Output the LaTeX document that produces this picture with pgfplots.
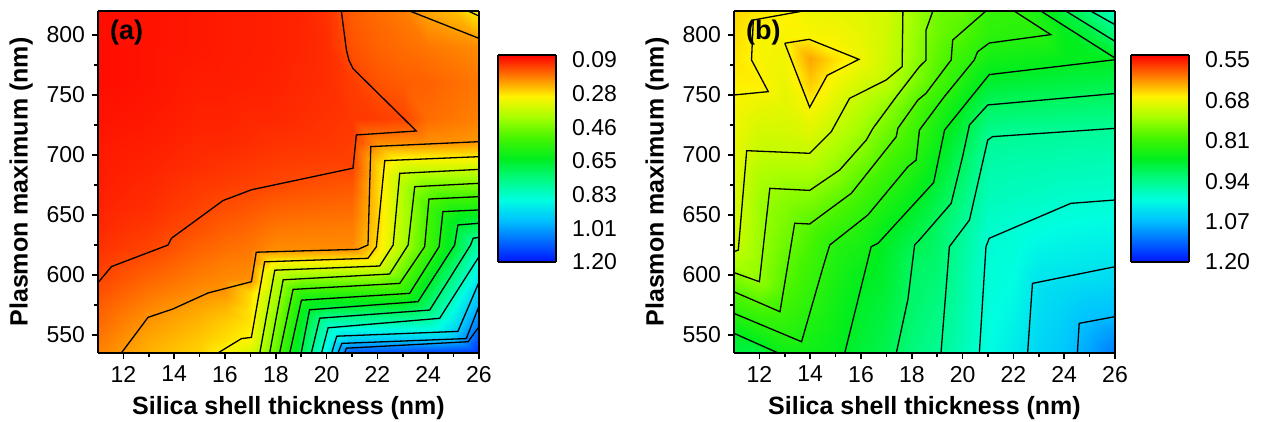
\documentclass[border=0pt]{standalone}
\usepackage{pgfplots}
\pgfplotsset{compat=1.18}
\usepackage{fontspec}
\setmainfont{Liberation Sans}

\pgfplotsset{
  colormap={origin}{rgb255=(255,0,0) rgb255=(255,120,0) rgb255=(255,243,0)
    rgb255=(167,255,0) rgb255=(69,245,0) rgb255=(0,238,30) rgb255=(0,250,130)
    rgb255=(0,254,225) rgb255=(0,193,255) rgb255=(0,106,255) rgb255=(0,20,255)},
  panel/.style={
    view={0}{90},
    scale only axis, width=190.5pt, height=171pt,
    xmin=11, xmax=26, ymin=535, ymax=820,
    xtick={12,14,...,26}, ytick={550,600,...,800},
    minor x tick num=1, minor y tick num=1,
    tick align=outside, tick pos=left,
    major tick length=3pt, minor tick length=1.8pt,
    every tick/.style={black, line width=0.8pt},
    axis line style={line width=1.4pt},
    /pgf/number format/assume math mode=true,
    ticklabel style={font=\fontsize{11.5}{13}\selectfont},
    xlabel={\bfseries Silica shell thickness (nm)},
    ylabel={\bfseries Plasmon maximum (nm)},
    label style={font=\fontsize{12.5}{14}\selectfont},
    axis on top,
  },
  cline/.style={black, line width=0.65pt},
  cbaxis/.style={
    view={0}{90}, anchor=south west,
    scale only axis, width=29pt, height=103.5pt,
    xmin=0, xmax=1, y dir=reverse,
    xtick=\empty, ytick pos=right, yticklabel pos=right,
    major tick length=0pt,
    axis line style={line width=1pt},
    yticklabel style={font=\fontsize{11.5}{13}\selectfont, xshift=4.5pt},
    axis on top,
  },
}

\begin{document}
\begin{tikzpicture}
\useasboundingbox (0,0) rectangle (632.5pt,211pt);

% ---------------- (a) ----------------
\begin{axis}[panel, at={(49pt,34.5pt)}, anchor=south west,
  point meta min=0.0625, point meta max=1.2]
\addplot3[surf, shader=interp, point meta=z] table {
x y z
11 535 .185
11 547 .175
11 560 .162
11 572 .152
11 585 .138
11 597 .127
11 610 .118
11 622 .110
11 640 .100
11 657 .095
11 675 .090
11 692 .088
11 710 .085
11 730 .080
11 760 .075
11 790 .075
11 820 .075

13 535 .230
13 547 .220
13 560 .205
13 572 .191
13 585 .174
13 597 .158
13 610 .142
13 622 .127
13 640 .115
13 657 .105
13 675 .100
13 692 .095
13 710 .090
13 730 .085
13 760 .080
13 790 .080
13 820 .080

15 535 .260
15 547 .250
15 560 .235
15 572 .220
15 585 .197
15 597 .184
15 610 .170
15 622 .157
15 640 .138
15 657 .125
15 675 .115
15 692 .105
15 710 .100
15 730 .095
15 760 .090
15 790 .085
15 820 .085

16 535 .294
16 547 .270
16 560 .255
16 572 .235
16 585 .205
16 597 .192
16 610 .180
16 622 .168
16 640 .151
16 657 .135
16 675 .120
16 692 .110
16 710 .100
16 730 .095
16 760 .090
16 790 .088
16 820 .088

17 535 .342
17 547 .294
17 560 .277
17 572 .274
17 585 .266
17 597 .198
17 610 .186
17 622 .175
17 640 .159
17 657 .143
17 675 .125
17 692 .115
17 710 .105
17 730 .100
17 760 .092
17 790 .090
17 820 .090

18 535 .489
18 547 .467
18 560 .444
18 572 .424
18 585 .400
18 597 .380
18 610 .302
18 622 .195
18 640 .174
18 657 .153
18 675 .130
18 692 .120
18 710 .110
18 730 .100
18 760 .095
18 790 .093
18 820 .093

19 535 .680
19 547 .660
19 560 .636
19 572 .610
19 585 .558
19 597 .442
19 610 .302
19 622 .195
19 640 .177
19 657 .157
19 675 .136
19 692 .122
19 710 .112
19 730 .105
19 760 .100
19 790 .098
19 820 .097

20 535 .880
20 547 .850
20 560 .805
20 572 .682
20 585 .558
20 597 .442
20 610 .302
20 622 .195
20 640 .179
20 657 .160
20 675 .140
20 692 .125
20 710 .115
20 730 .110
20 760 .105
20 790 .105
20 820 .110

21 535 1.12
21 547 .947
21 560 .805
21 572 .682
21 585 .558
21 597 .442
21 610 .302
21 622 .195
21 640 .180
21 657 .163
21 675 .144
21 692 .125
21 710 .120
21 730 .115
21 760 .120
21 790 .140
21 820 .150

22 535 1.13
22 547 .947
22 560 .805
22 572 .682
22 585 .558
22 597 .442
22 610 .317
22 622 .270
22 640 .259
22 657 .259
22 675 .259
22 692 .259
22 710 .195
22 730 .120
22 760 .140
22 790 .155
22 820 .165

23 535 1.14
23 547 .950
23 560 .805
23 572 .682
23 585 .558
23 597 .499
23 610 .448
23 622 .401
23 640 .389
23 657 .389
23 675 .389
23 692 .334
23 710 .198
23 730 .128
23 760 .150
23 790 .165
23 820 .180

24 535 1.15
24 547 .947
24 560 .805
24 572 .727
24 585 .676
24 597 .629
24 610 .578
24 622 .531
24 640 .520
24 657 .520
24 675 .453
24 692 .334
24 710 .200
24 730 .165
24 760 .155
24 790 .175
24 820 .220

25 535 1.15
25 547 .970
25 560 .905
25 572 .858
25 585 .807
25 597 .760
25 610 .709
25 622 .662
25 640 .650
25 657 .580
25 675 .453
25 692 .334
25 710 .203
25 730 .175
25 760 .165
25 790 .185
25 820 .240

26 535 1.17
26 547 1.12
26 560 1.065
26 572 1.01
26 585 .955
26 597 .905
26 610 .866
26 622 .805
26 640 .700
26 657 .580
26 675 .453
26 692 .334
26 710 .207
26 730 .185
26 760 .175
26 790 .195
26 820 .290
};
% contour lines
\addplot[cline] coordinates {(23.27,820) (26,797.2)};
\addplot[cline] coordinates {(25.57,820) (26,815.8)};
\addplot[cline] coordinates {(20.58,820) (20.78,787.5) (20.88,779) (21.04,772) (23.53,720) (21.17,716.7) (21.04,689) (17.04,671) (15.92,662) (13.89,630.6) (13.76,625) (11.53,607) (11,593.6)};
\addplot[cline] coordinates {(26,711.1) (21.74,707) (21.63,625) (21.24,621.4) (17.23,619) (17.04,594.4) (15.33,585) (13.95,571.7) (12.97,564.7) (11.92,535)};
\addplot[cline] coordinates {(26,698.6) (22.29,695.3) (21.96,623.6) (21.63,613.9) (17.56,611) (17.04,548) (16.65,547) (15.72,535)};
\addplot[cline] coordinates {(26,688) (22.88,684.7) (22.62,625) (22.09,607.5) (17.96,604) (17.37,535)};
\addplot[cline] coordinates {(26,676.4) (23.47,673.6) (23.21,625) (22.48,600.8) (18.29,596) (17.76,535)};
\addplot[cline] coordinates {(26,665.3) (24.03,663.3) (23.86,623.6) (22.88,593) (18.68,588) (18.15,535)};
\addplot[cline] coordinates {(26,654.2) (24.58,652.8) (24.43,623.6) (23.27,584.7) (19.01,579) (18.55,535)};
\addplot[cline] coordinates {(26,643.1) (25.17,641.7) (25.04,625) (23.6,577.8) (19.33,571) (19.0,535)};
\addplot[cline] coordinates {(26,631.4) (25.77,630.6) (25.67,625) (24.06,570.8) (19.73,564) (19.4,535)};
\addplot[cline] coordinates {(26,615.3) (24.45,563.9) (20.06,556) (19.8,535)};
\addplot[cline] coordinates {(26,594) (25.17,553) (20.4,549) (20.2,535)};
\addplot[cline] coordinates {(26,574) (25.5,547) (20.6,543) (20.45,535)};
\addplot[cline] coordinates {(26,556.9) (25.57,544.4) (20.78,539) (20.71,535)};
\node[anchor=north west, inner sep=0pt, font=\bfseries\fontsize{13.5}{15}\selectfont]
  at (axis description cs:0.031,0.975) {(a)};
\end{axis}

% colour scale (a)
\begin{axis}[cbaxis, at={(249pt,80pt)},
  ymin=0.0625, ymax=1.2, point meta min=0.0625, point meta max=1.2,
  ytick={0.09,0.275,0.46,0.645,0.83,1.015,1.20},
  yticklabels={0.09,0.28,0.46,0.65,0.83,1.01,1.20}]
\addplot3[surf, shader=interp, point meta=y] table {
x y z
0 0.0625 0
0 1.2 0

1 0.0625 0
1 1.2 0
};
\end{axis}

% ---------------- (b) ----------------
\begin{axis}[panel, at={(367pt,34.5pt)}, anchor=south west,
  point meta min=0.534, point meta max=1.2]
\addplot3[surf, shader=interp, point meta=z] table {
x y z
11 535 .890
11 550 .872
11 565 .837
11 580 .803
11 595 .768
11 610 .731
11 625 .708
11 640 .700
11 660 .695
11 680 .690
11 700 .685
11 720 .680
11 740 .673
11 760 .665
11 780 .660
11 800 .655
11 820 .650

12 535 .895
12 550 .851
12 565 .816
12 580 .783
12 595 .748
12 610 .745
12 625 .742
12 640 .740
12 660 .740
12 680 .730
12 700 .713
12 720 .700
12 740 .685
12 760 .665
12 780 .672
12 800 .672
12 820 .660

13 535 .855
13 550 .831
13 565 .816
13 580 .802
13 595 .789
13 610 .782
13 625 .774
13 640 .766
13 660 .756
13 680 .739
13 700 .713
13 720 .700
13 740 .690
13 760 .683
13 780 .677
13 800 .672
13 820 .665

14 535 .855
14 550 .845
14 565 .834
14 580 .824
14 595 .816
14 610 .808
14 625 .800
14 640 .792
14 660 .765
14 680 .738
14 700 .712
14 720 .691
14 740 .671
14 760 .645
14 780 .625
14 800 .672
14 820 .680

15 535 .863
15 550 .860
15 565 .855
15 580 .850
15 595 .845
15 610 .840
15 625 .833
15 640 .815
15 660 .788
15 680 .758
15 700 .736
15 720 .716
15 740 .697
15 760 .679
15 780 .658
15 800 .675
15 820 .685

16 535 .885
16 550 .880
16 565 .877
16 580 .873
16 595 .866
16 610 .855
16 625 .845
16 640 .834
16 660 .812
16 680 .788
16 700 .760
16 720 .739
16 740 .720
16 760 .700
16 780 .680
16 800 .685
16 820 .690

17 535 .900
17 550 .895
17 565 .890
17 580 .885
17 595 .880
17 610 .877
17 625 .873
17 640 .863
17 660 .840
17 680 .817
17 700 .795
17 720 .771
17 740 .748
17 760 .714
17 780 .705
17 800 .703
17 820 .700

18 535 .930
18 550 .925
18 565 .920
18 580 .917
18 595 .914
18 610 .910
18 625 .898
18 640 .885
18 660 .867
18 680 .845
18 700 .824
18 720 .806
18 740 .788
18 760 .758
18 780 .745
18 800 .740
18 820 .735

19 535 .945
19 550 .940
19 565 .935
19 580 .930
19 595 .925
19 610 .920
19 625 .915
19 640 .912
19 660 .898
19 680 .880
19 700 .863
19 720 .847
19 740 .831
19 760 .797
19 780 .785
19 800 .775
19 820 .770

20 535 .970
20 550 .967
20 565 .965
20 580 .962
20 595 .960
20 610 .957
20 625 .953
20 640 .949
20 660 .936
20 680 .922
20 700 .909
20 720 .889
20 740 .869
20 760 .840
20 780 .816
20 800 .794
20 820 .780

21 535 1.000
21 550 .998
21 565 .996
21 580 .994
21 595 .993
21 610 .992
21 625 .991
21 640 .984
21 660 .974
21 680 .965
21 700 .956
21 720 .940
21 740 .912
21 760 .879
21 780 .848
21 800 .825
21 820 .815

22 535 1.020
22 550 1.015
22 565 1.010
22 580 1.005
22 595 1.000
22 610 .997
22 625 .994
22 640 .990
22 660 .979
22 680 .969
22 700 .959
22 720 .945
22 740 .915
22 760 .884
22 780 .854
22 800 .828
22 820 .820

23 535 1.045
23 550 1.042
23 565 1.038
23 580 1.034
23 595 1.030
23 610 1.018
23 625 1.007
23 640 .996
23 660 .983
23 680 .972
23 700 .960
23 720 .947
23 740 .917
23 760 .887
23 780 .858
23 800 .828
23 820 .845

24 535 1.060
24 550 1.055
24 565 1.050
24 580 1.043
24 595 1.033
24 610 1.022
24 625 1.012
24 640 1.002
24 660 .988
24 680 .976
24 700 .963
24 720 .949
24 740 .920
24 760 .891
24 780 .865
24 800 .862
24 820 .890

25 535 1.090
25 550 1.080
25 565 1.066
25 580 1.052
25 595 1.037
25 610 1.025
25 625 1.015
25 640 1.004
25 660 .990
25 680 .977
25 700 .964
25 720 .950
25 740 .922
25 760 .893
25 780 .866
25 800 .887
25 820 .930

26 535 1.120
26 550 1.100
26 565 1.070
26 580 1.056
26 595 1.041
26 610 1.028
26 625 1.017
26 640 1.006
26 660 .992
26 680 .979
26 700 .965
26 720 .951
26 740 .924
26 760 .896
26 780 .869
26 800 .925
26 820 .980
};
% contour lines
\addplot[cline] coordinates {(13.0,793.1) (13.96,796.4) (15.92,779.7) (14.67,766.4) (13.98,739.7) (13.0,793.1)};
\addplot[cline] coordinates {(13.72,820) (11.76,812.5) (11.69,779.2) (12.35,752.8) (11,750)};
\addplot[cline] coordinates {(17.65,820) (17.62,773.6) (16.99,762.5) (15.55,747.2) (14.83,719.4) (13.98,701.4) (11.5,703.6) (11.17,620.8) (11,619.4)};
\addplot[cline] coordinates {(18.83,820) (18.56,804) (18.56,779) (18.3,773.6) (17.39,748.6) (16.47,722.2) (16.21,712.5) (15.16,687.5) (13.98,670.5) (12.41,672.2) (12.0,594.4) (11,602)};
\addplot[cline] coordinates {(20.92,820) (19.61,795.8) (19.55,779.2) (18.56,751.4) (18.24,745.8) (17.45,722.2) (17.39,715.3) (15.62,668.1) (13.98,642.5) (13.39,643.1) (12.81,569.4) (11,586)};
\addplot[cline] coordinates {(22.03,820) (23.47,800.3) (21.05,793.3) (20.59,786) (20.46,779.2) (19.28,748.6) (18.3,720.8) (18.17,695.8) (17.85,690.3) (16.27,650) (14.77,625) (14.51,606.9) (13.66,544.4) (11,568)};
\addplot[cline] coordinates {(26,779.4) (21.05,767) (19.29,720.8) (18.86,677) (16.67,626.4) (16.4,623.6) (15.36,535)};
\addplot[cline] coordinates {(11,551.4) (12.74,535)};
\addplot[cline] coordinates {(26,751.2) (20.99,741.7) (20.27,725) (20.0,698.6) (19.55,659.7) (18.3,629.2) (18.11,625) (17.85,580) (17.39,535)};
\addplot[cline] coordinates {(23.08,820) (26,780.8)};
\addplot[cline] coordinates {(24.06,820) (26,794.7)};
\addplot[cline] coordinates {(25.04,820) (26,808.6)};
\addplot[cline] coordinates {(26,722.2) (21.18,715.3) (20.99,712.5) (20.27,645.8) (19.48,623.6) (19.15,535)};
\addplot[cline] coordinates {(26,662.5) (24.26,659.7) (21.05,630.6) (20.92,623.6) (20.66,535)};
\addplot[cline] coordinates {(26,606.9) (22.75,593) (22.56,535)};
\addplot[cline] coordinates {(26,565.3) (24.59,559.7) (24.52,535)};
\node[anchor=north west, inner sep=0pt, font=\bfseries\fontsize{13.5}{15}\selectfont]
  at (axis description cs:0.031,0.975) {(b)};
\end{axis}

% colour scale (b)
\begin{axis}[cbaxis, at={(565.5pt,80pt)},
  ymin=0.534, ymax=1.2, point meta min=0.534, point meta max=1.2,
  ytick={0.55,0.68,0.81,0.94,1.07,1.20},
  yticklabels={0.55,0.68,0.81,0.94,1.07,1.20}]
\addplot3[surf, shader=interp, point meta=y] table {
x y z
0 0.534 0
0 1.2 0

1 0.534 0
1 1.2 0
};
\end{axis}
\end{tikzpicture}
\end{document}
